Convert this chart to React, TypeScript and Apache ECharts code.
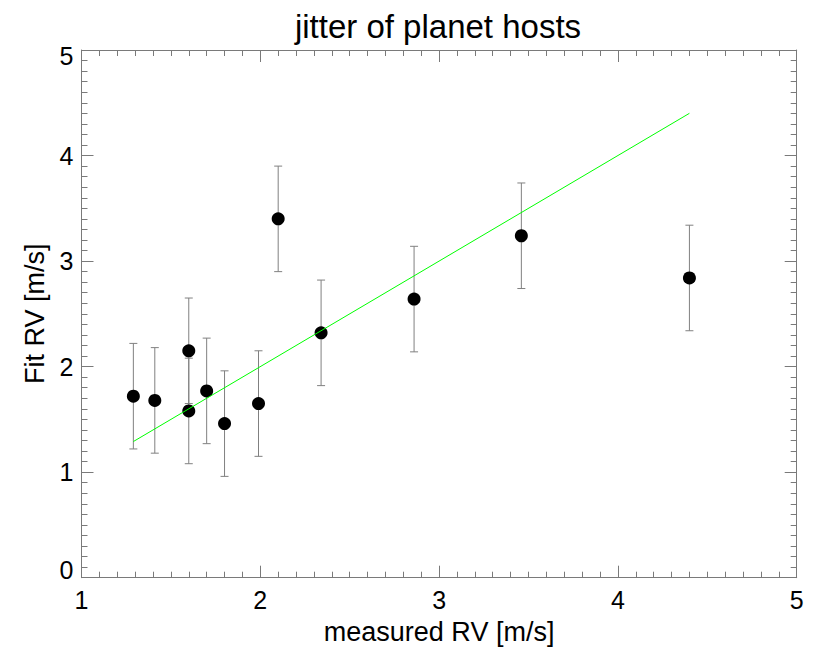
import React, { useEffect, useRef } from "react";
import * as echarts from "echarts";

// measured RV [m/s]
const measuredRV = [1.29, 1.41, 1.60, 1.60, 1.70, 1.80, 1.99, 2.10, 2.34, 2.86, 3.46, 4.40];
// fit RV [m/s]
const fitRV = [1.72, 1.68, 2.15, 1.58, 1.77, 1.46, 1.65, 3.40, 2.32, 2.64, 3.24, 2.84];
// error on fit RV [m/s]
const fitErr = [0.5, 0.5, 0.5, 0.5, 0.5, 0.5, 0.5, 0.5, 0.5, 0.5, 0.5, 0.5];
// one-to-one line endpoints (y = x)
const oneToOneX = [1.29, 4.40];

const xTickValues = [1, 2, 3, 4, 5];
const yTickValues = [0, 1, 2, 3, 4, 5];

const FONT = "'Liberation Sans', Arial, Helvetica, sans-serif";
const AXIS_GRAY = "#7a7a7a";

export default function App() {
  const ref = useRef<HTMLDivElement>(null);

  useEffect(() => {
    if (!ref.current) return;
    const chart = echarts.init(ref.current, undefined, { renderer: "svg" });

    const scatterData = measuredRV.map((x, i) => [x, fitRV[i]]);
    const errData = measuredRV.map((x, i) => [x, fitRV[i] - fitErr[i], fitRV[i] + fitErr[i]]);
    const lineData = oneToOneX.map((x) => [x, x]);

    const xMin = xTickValues[0];
    const xMax = xTickValues[xTickValues.length - 1];
    const yMin = yTickValues[0];
    const yMax = yTickValues[yTickValues.length - 1];

    const axisCommon = {
      axisLine: { show: true, onZero: false, lineStyle: { color: AXIS_GRAY, width: 1 } },
      axisTick: { show: true, inside: true, length: 12, lineStyle: { color: AXIS_GRAY, width: 1 } },
      minorTick: { show: true, splitNumber: 10, length: 6, lineStyle: { color: AXIS_GRAY, width: 1 } },
      splitLine: { show: false },
      minorSplitLine: { show: false },
    };

    chart.setOption({
      animation: false,
      backgroundColor: "#ffffff",
      grid: { left: 81.5, right: 33.3, top: 50, bottom: 79.3, containLabel: false },
      graphic: [
        {
          type: "text",
          x: 438,
          y: 26,
          style: {
            text: "jitter of planet hosts",
            fontSize: 33,
            fontFamily: FONT,
            fill: "#000",
            align: "center",
            verticalAlign: "middle",
          },
        },
      ],
      xAxis: [
        {
          type: "value",
          min: xMin,
          max: xMax,
          interval: 1,
          position: "bottom",
          name: "measured RV [m/s]",
          nameLocation: "middle",
          nameGap: 41,
          nameTextStyle: { fontSize: 27, fontFamily: FONT, color: "#000" },
          axisLabel: { show: true, margin: 10, fontSize: 25, fontFamily: FONT, color: "#000" },
          ...axisCommon,
        },
        {
          type: "value",
          min: xMin,
          max: xMax,
          interval: 1,
          position: "top",
          axisLabel: { show: false },
          ...axisCommon,
        },
      ],
      yAxis: [
        {
          type: "value",
          min: yMin,
          max: yMax,
          interval: 1,
          position: "left",
          name: "Fit RV [m/s]",
          nameLocation: "middle",
          nameGap: 31,
          nameTextStyle: { fontSize: 27, fontFamily: FONT, color: "#000" },
          axisLabel: {
            show: true,
            margin: 8,
            fontSize: 25,
            fontFamily: FONT,
            color: "#000",
            formatter: (v: number) =>
              v === yMax ? `{top|${v}}` : v === yMin ? `{bot|${v}}` : `${v}`,
            rich: {
              top: { fontSize: 25, fontFamily: FONT, color: "#000", padding: [12, 0, 0, 0] },
              bot: { fontSize: 25, fontFamily: FONT, color: "#000", padding: [0, 0, 16, 0] },
            },
          },
          ...axisCommon,
        },
        {
          type: "value",
          min: yMin,
          max: yMax,
          interval: 1,
          position: "right",
          axisLabel: { show: false },
          ...axisCommon,
        },
      ],
      series: [
        {
          type: "custom",
          name: "errors",
          xAxisIndex: 0,
          yAxisIndex: 0,
          data: errData,
          z: 1,
          renderItem: (params: any, api: any) => {
            const x = api.value(0);
            const lo = api.coord([x, api.value(1)]);
            const hi = api.coord([x, api.value(2)]);
            const hw = 4;
            const style = { stroke: "#808080", lineWidth: 1, fill: "none" };
            return {
              type: "group",
              children: [
                { type: "line", shape: { x1: lo[0], y1: lo[1], x2: hi[0], y2: hi[1] }, style },
                { type: "line", shape: { x1: lo[0] - hw, y1: lo[1], x2: lo[0] + hw, y2: lo[1] }, style },
                { type: "line", shape: { x1: hi[0] - hw, y1: hi[1], x2: hi[0] + hw, y2: hi[1] }, style },
              ],
            };
          },
        },
        {
          type: "scatter",
          name: "hosts",
          xAxisIndex: 0,
          yAxisIndex: 0,
          data: scatterData,
          symbol: "circle",
          symbolSize: 13,
          itemStyle: { color: "#000", opacity: 1 },
          z: 2,
        },
        {
          type: "line",
          name: "one-to-one",
          xAxisIndex: 0,
          yAxisIndex: 0,
          data: lineData,
          showSymbol: false,
          symbol: "none",
          lineStyle: { color: "#00ff00", width: 1 },
          z: 3,
        },
      ],
    });

    return () => chart.dispose();
  }, []);

  return (
    <div
      ref={ref}
      style={{ position: "fixed", left: 0, top: 0, width: 830, height: 657, background: "#fff" }}
    />
  );
}
